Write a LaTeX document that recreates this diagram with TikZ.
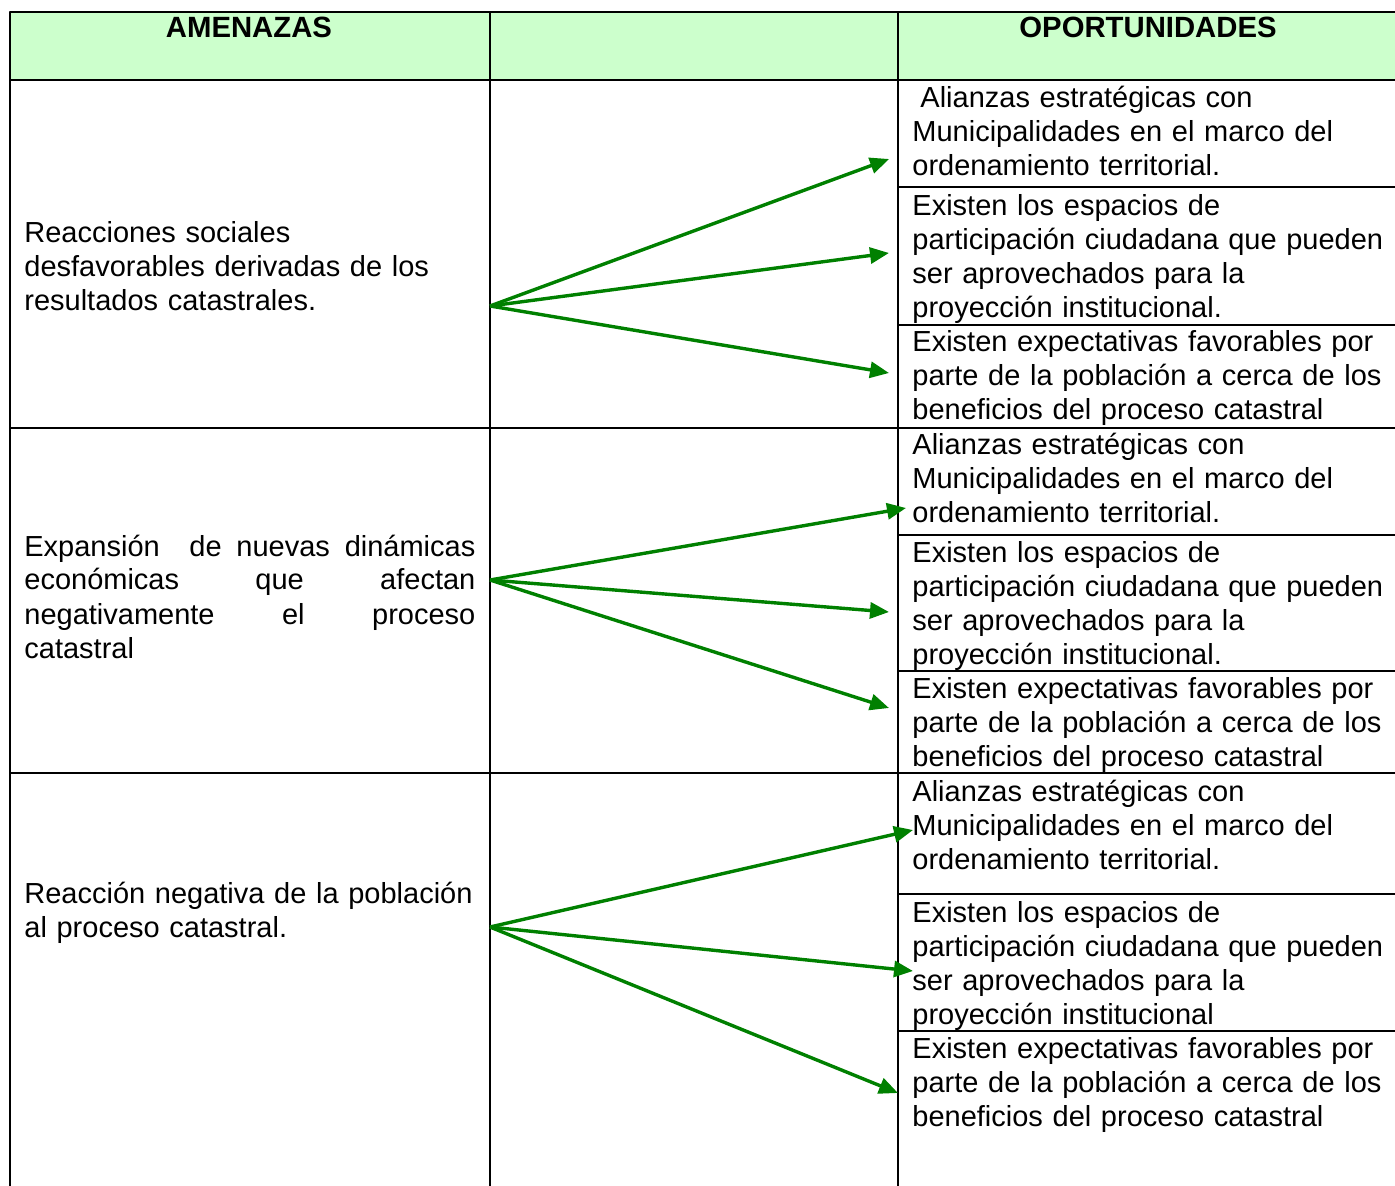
\documentclass[tikz,border=0pt]{standalone}
\usepackage{fontspec}
\setmainfont{Liberation Sans}
\usetikzlibrary{arrows.meta}
\definecolor{headgreen}{RGB}{204,255,204}
\definecolor{arrowgreen}{RGB}{0,128,0}
\begin{document}
\begin{tikzpicture}[x=0.5pt,y=-0.5pt,line join=round,font=\fontsize{14.5}{17}\selectfont,
  grid/.style={black,line width=1pt},
  link/.style={arrowgreen,line width=1.7pt,-{Triangle[length=9.5pt,width=8pt]}},
  cell/.style={anchor=base west,inner sep=0pt,text width=241pt,align=left},
  head/.style={font=\fontsize{14.65}{17}\selectfont\bfseries,inner sep=0pt,anchor=base}]
\useasboundingbox (0,0) rectangle (1395,1186);
\fill[headgreen] (10,12) rectangle (1395,80);
\draw[grid] (10,1186)--(10,12)--(1395,12) (10,80)--(1395,80) (10,428)--(1395,428) (10,773)--(1395,773)
  (490,12)--(490,1186) (898,12)--(898,1186);
\foreach \y in {187,325,535,671,894,1031}
  \draw[grid] (898,\y)--(1395,\y);
\node[head] (ame) at (249,38) {AMENAZAS};
\node[head] (opo) at (1148,38) {OPORTUNIDADES};
\node[cell,text width=234pt] (ame1) at (24,243) {Reacciones sociales\\desfavorables derivadas de los\\resultados catastrales.};
\node[cell,text width=225.5pt,align=justify] (ame2) at (24,556) {Expansión\ \ de nuevas dinámicas\linebreak económicas que afectan\linebreak negativamente el proceso\linebreak catastral};
\node[cell,text width=234pt] (ame3) at (24,903) {Reacción negativa de la población\\al proceso catastral.};
\node[cell] (opo11) at (912,108) {\hspace*{4pt}Alianzas estratégicas con\\Municipalidades en el marco del\\ordenamiento territorial.};
\node[cell] (opo12) at (912,216) {Existen los espacios de\\participación ciudadana que pueden\\ser aprovechados para la\\proyección institucional.};
\node[cell] (opo13) at (912,352) {Existen expectativas favorables por\\parte de la población a cerca de los\\beneficios del proceso catastral};
\node[cell] (opo21) at (912,455) {Alianzas estratégicas con\\Municipalidades en el marco del\\ordenamiento territorial.};
\node[cell] (opo22) at (912,562) {Existen los espacios de\\participación ciudadana que pueden\\ser aprovechados para la\\proyección institucional.};
\node[cell] (opo23) at (912,698) {Existen expectativas favorables por\\parte de la población a cerca de los\\beneficios del proceso catastral};
\node[cell] (opo31) at (912,801) {Alianzas estratégicas con\\Municipalidades en el marco del\\ordenamiento territorial.};
\node[cell] (opo32) at (912,922) {Existen los espacios de\\participación ciudadana que pueden\\ser aprovechados para la\\proyección institucional};
\node[cell] (opo33) at (912,1058) {Existen expectativas favorables por\\parte de la población a cerca de los\\beneficios del proceso catastral};
\coordinate (src1) at (490,306);
\coordinate (src2) at (490,580);
\coordinate (src3) at (490,927);
\foreach \n/\x/\y in {dst11/889/159,dst12/889/253,dst13/889/373,dst21/906/508,dst22/889/612,dst23/889/708,dst31/913/830,dst32/913/971,dst33/898/1093}
  \coordinate (\n) at (\x,\y);
\foreach \s/\t in {src1/dst11,src1/dst12,src1/dst13,src2/dst21,src2/dst22,src2/dst23,src3/dst31,src3/dst32,src3/dst33}
  \draw[link] (\s)--(\t);
\end{tikzpicture}
\end{document}
